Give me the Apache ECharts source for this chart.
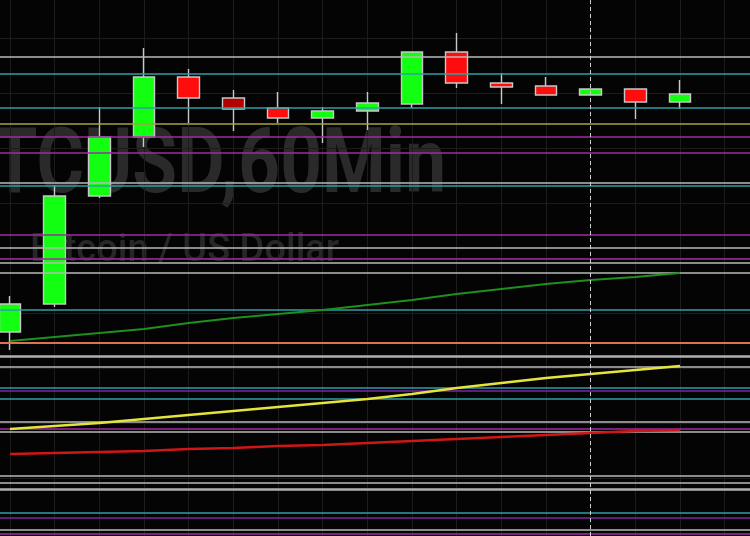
<!DOCTYPE html>
<html>
<head>
<meta charset="utf-8">
<script src="https://cdn.jsdelivr.net/npm/echarts@6/dist/echarts.min.js"></script>
<style>
html,body{margin:0;padding:0;background:#040404;}
#c{width:750px;height:536px;}
</style>
</head>
<body>
<div id="c"></div>
<script>
// ---- data (price units) ----
// hourly bar index (0 = first visible 60-min bar)
const bars = [0,1,2,3,4,5,6,7,8,9,10,11,12,13,14,15];
// [open, close, low, high]
const candles = [
  [201, 229, 183, 237],
  [229, 337, 226, 348],
  [337, 396, 335, 426],
  [396, 456, 386, 485],
  [456, 435, 410, 464],
  [435, 424, 402, 443],
  [425, 415, 410, 441],
  [415, 422, 390, 426],
  [422, 430, 403, 441],
  [429, 481, 425, 481],
  [481, 450, 445, 500],
  [450, 446, 429, 460],
  [447, 438, 438, 456],
  [438, 444, 438, 444],
  [444, 431, 414, 444],
  [431, 439, 424, 453]
];
const maFast = [192,196,200,204,210,215,219,223,228,233,239,244,249,253,256,260];
const maMid  = [104,107,110,114,118,122,126,130,134,139,145,150,155,159,163,167];
const maSlow = [79,80,81,82,84,85,87,88,90,92,94,96,98,100,102,103];
const levels = [476,459,425,409,396,380,350,347,298,285,274,270,260,223,190,177,166,145,142,134,111,104,101,57,50,44,20,15,3,-1];
const levelKinds = ['gray','teal','teal','olive','magenta','magenta','gray','teal','magenta','gray','magenta','gray','gray','teal','orange','grayThick','gray','teal','purple','teal','gray','magenta','gray','gray','gray','grayThick','teal','purple','gray','magenta'];
const gridPrices = [495,440,385,330,275,220,165,110,55,0];
const gridBars = [0,1,2,3,4,5,6,7,8,9,10,11,12,13,14,15,16];
const crosshairBar = 13;
const darkCandleIndex = 5;
const titleText = 'BTCUSD,60Min';
const subtitleText = 'Bitcoin / US Dollar';

// ---- styles ----
const kindStyle = {
  gray:      {color:'#b8b8b8', width:1.6},
  grayThick: {color:'#b0b0b0', width:2.6},
  teal:      {color:'#2f9fa4', width:1.6},
  olive:     {color:'#a4a43a', width:1.6},
  magenta:   {color:'#a02aa0', width:1.6},
  purple:    {color:'#7c24a8', width:1.6},
  orange:    {color:'#e07052', width:1.8}
};
const gridColor = '#1c1c1c';

const candleData = candles.map((c, i) => {
  const v = [bars[i]].concat(c);
  return i === darkCandleIndex ? {value: v, itemStyle: {color0: '#b40000'}} : v;
});
const pairs = arr => arr.map((v, i) => [bars[i], v]);

const levelLines = levels.map((v, i) => ({
  yAxis: v,
  lineStyle: {color: kindStyle[levelKinds[i]].color, width: kindStyle[levelKinds[i]].width, type: 'solid'}
}));
const gridLines = gridPrices.map(v => ({yAxis: v}))
  .concat(gridBars.map(b => ({xAxis: b})));

const chart = echarts.init(document.getElementById('c'), null, {renderer: 'canvas'});
const maLine = (data, color, width) => ({
  type: 'line', data: pairs(data), showSymbol: false, symbol: 'none', z: 7,
  lineStyle: {color: color, width: width}, silent: true
});

chart.setOption({
  animation: false,
  backgroundColor: '#040404',
  graphic: [
    {type: 'text', x: 446, y: 169, scaleX: 0.81, z: 0, silent: true,
     style: {text: titleText, font: 'bold 90px Roboto', fill: '#2a2a2a',
             align: 'right', verticalAlign: 'middle', textAlign: 'right', textVerticalAlign: 'middle'}},
    {type: 'text', x: 30, y: 251, z: 0, silent: true,
     style: {text: subtitleText, font: '500 38px Roboto', fill: '#272727',
             align: 'left', verticalAlign: 'middle', textAlign: 'left', textVerticalAlign: 'middle'}}
  ],
  grid: {left: 0, right: 0, top: 0, bottom: 0, containLabel: false},
  xAxis: {
    type: 'value', min: -0.2239, max: 16.566,
    axisLine: {show: false}, axisTick: {show: false}, axisLabel: {show: false},
    splitLine: {show: false}
  },
  yAxis: {
    type: 'value', min: -3, max: 533,
    axisLine: {show: false}, axisTick: {show: false}, axisLabel: {show: false},
    splitLine: {show: false}
  },
  series: [
    {
      type: 'line', data: [], z: 1,
      markLine: {
        silent: true, symbol: ['none', 'none'], label: {show: false}, z: 1,
        lineStyle: {color: gridColor, width: 1, type: 'solid'},
        data: gridLines
      }
    },
    {
      type: 'candlestick', data: candleData, barWidth: 22, z: 3,
      encode: {x: 0, y: [1, 2, 3, 4]},
      itemStyle: {color: '#12ff12', color0: '#ff0c0c', borderColor: '#c8c8c8', borderColor0: '#c8c8c8', borderWidth: 1.4},
      markLine: {
        silent: true, symbol: ['none', 'none'], label: {show: false}, z: 5,
        data: levelLines
      }
    },
    maLine(maFast, '#1e901e', 2),
    maLine(maMid, '#e4e43c', 2.5),
    maLine(maSlow, '#d01616', 2.5),
    {
      type: 'line', data: [], z: 8,
      markLine: {
        silent: true, symbol: ['none', 'none'], label: {show: false}, z: 8,
        data: [{xAxis: crosshairBar, lineStyle: {color: '#cfcfcf', width: 1, type: [4, 3]}}]
      }
    }
  ]
});
</script>
</body>
</html>
